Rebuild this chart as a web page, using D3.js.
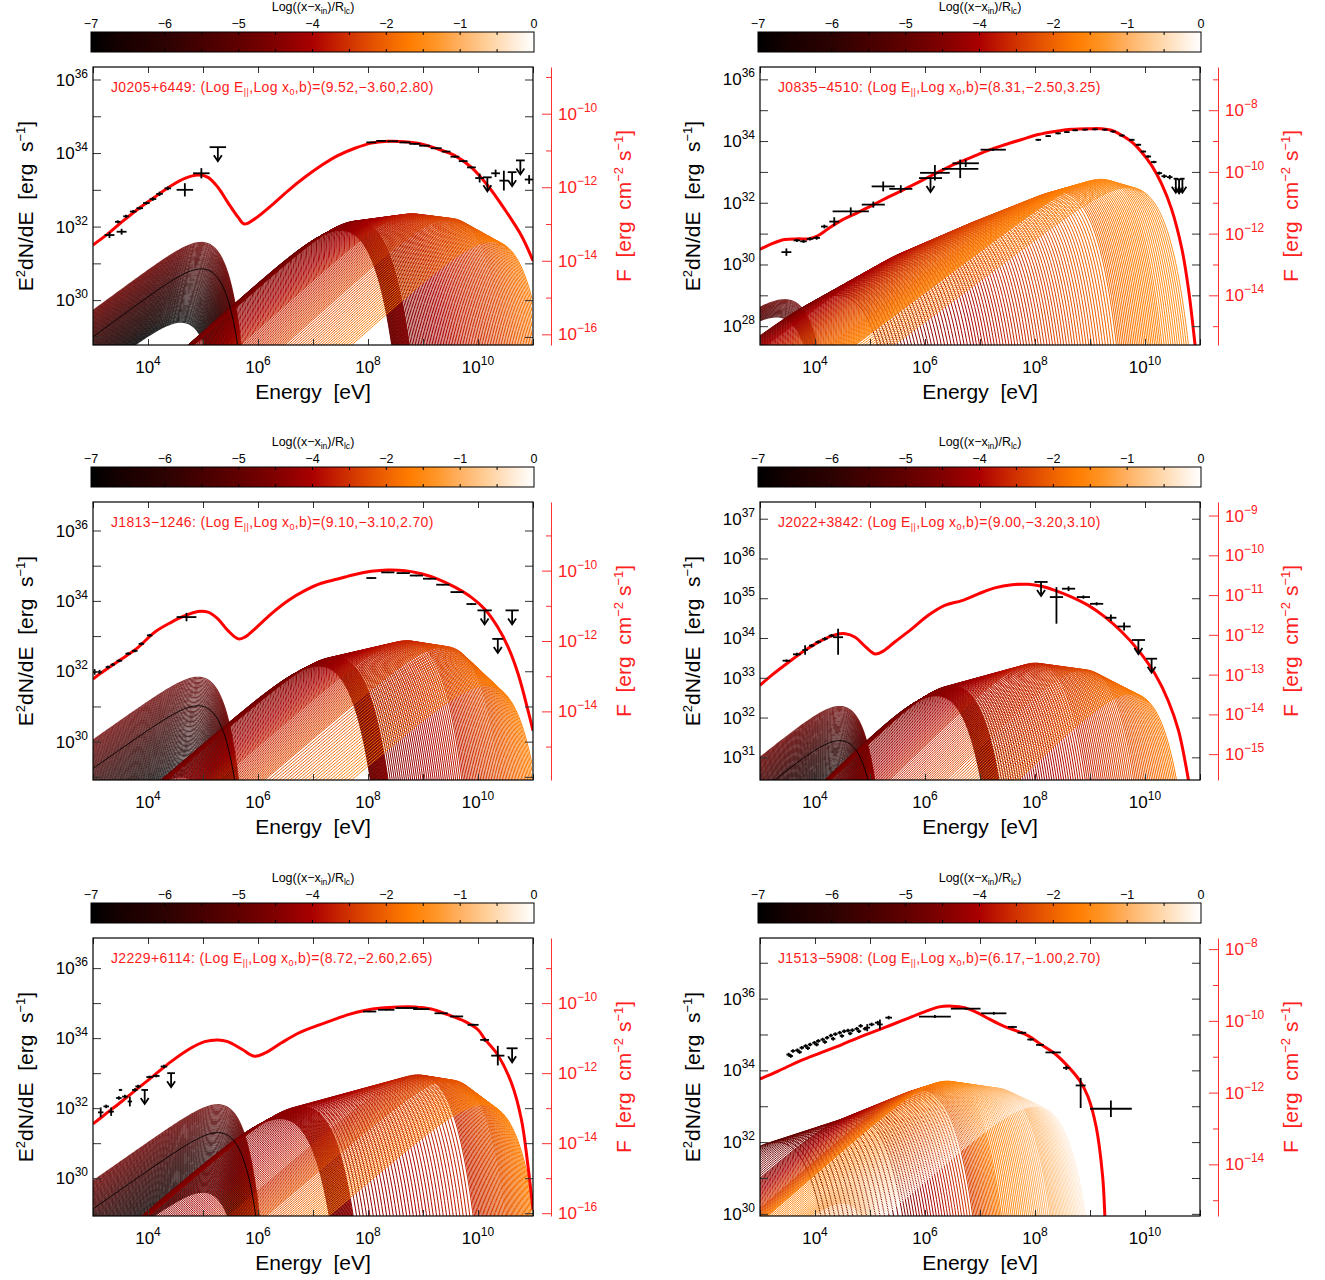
<!DOCTYPE html>
<html>
<meta charset="utf-8">
<title>Pulsar SED fits</title>
<style>
body { margin: 0; background: #fff; }
svg { font-family: "Liberation Sans", Arial, sans-serif; }
.box { fill: none; stroke: #000; stroke-width: 1.2; }
.model { fill: none; stroke: #ff0000; stroke-width: 3; }
.obs line, .obs path { stroke: #000; stroke-width: 1.8; fill: none; }
.fam { fill: none; }
</style>
<body>
<div id="chart"></div>
<script src="https://d3js.org/d3.v7.min.js"></script>
<script>

// ---------- chart values (log10 units) ----------
var sourceNames = ["J0205+6449", "J0835\u22124510", "J1813\u22121246", "J2022+3842", "J2229+6114", "J1513\u22125908"];
var fitValues = ["9.52,\u22123.60,2.80", "8.31,\u22122.50,3.25", "9.10,\u22123.10,2.70",
                 "9.00,\u22123.20,3.10", "8.72,\u22122.60,2.65", "6.17,\u22121.00,2.70"];
var energyRange = [3, 11];
var energyLabels = [4, 6, 8, 10];
var lumRange = [[28.78, 36.34], [27.39, 36.40], [28.91, 36.81], [30.43, 37.42], [28.92, 36.86], [29.94, 37.69]];
var fluxShift = [45.07, 43.0, 44.86, 46.08, 45.0, 45.38];
var labelStep = [2, 2, 2, 1, 2, 2];

var cmapStops = [0, 0.08, 0.17, 0.25, 0.33, 0.42, 0.5, 0.55, 0.6, 0.67, 0.72, 0.78, 0.83, 0.9, 0.96, 1];
var cmapColors = ["#000000", "#1a0000", "#2d0202", "#460000", "#5f0000", "#820000", "#aa0000", "#c31e00",
                  "#d73c00", "#f06400", "#ff7d00", "#ff9628", "#ffaf5f", "#ffd2a0", "#ffeedc", "#ffffff"];
var cbarLabels = ["\u22127", "\u22126", "\u22125", "\u22124", "\u22122", "\u22121", "0"];

// total model: [log E, log L]
var modelJ0205 = [[3.00,31.50],[3.27,31.80],[3.52,32.12],[3.82,32.48],[4.12,32.80],[4.42,33.11],[4.67,33.31],[4.91,33.40],
  [5.09,33.34],[5.27,33.07],[5.45,32.66],[5.64,32.25],[5.75,32.07],[5.94,32.21],[6.24,32.57],[6.55,32.98],[6.85,33.34],
  [7.15,33.66],[7.45,33.93],[7.76,34.13],[8.06,34.27],[8.36,34.32],[8.67,34.31],[8.97,34.25],[9.27,34.11],[9.58,33.93],
  [9.88,33.61],[10.18,33.11],[10.48,32.48],[10.79,31.75],[11.00,31.07]];
var modelJ0835 = [[3.00,30.49],[3.21,30.67],[3.45,30.81],[3.70,30.83],[3.88,30.83],[4.06,30.94],[4.24,31.16],[4.48,31.43],
  [4.73,31.64],[5.03,31.91],[5.33,32.18],[5.64,32.45],[5.94,32.72],[6.24,32.99],[6.55,33.26],[6.85,33.48],[7.15,33.70],
  [7.45,33.88],[7.76,34.05],[8.06,34.21],[8.36,34.31],[8.67,34.38],[8.97,34.40],[9.21,34.40],[9.39,34.35],[9.58,34.18],
  [9.76,33.97],[9.94,33.64],[10.12,33.21],[10.30,32.62],[10.48,31.81],[10.67,30.51],[10.79,29.21],[10.91,27.39],[10.96,26.50]];
var modelJ1813 = [[3.00,31.78],[3.21,32.02],[3.52,32.35],[3.82,32.68],[4.12,33.11],[4.42,33.39],[4.67,33.58],[4.91,33.70],
  [5.09,33.68],[5.27,33.49],[5.45,33.16],[5.64,32.92],[5.76,32.97],[5.94,33.20],[6.24,33.63],[6.55,34.01],[6.85,34.29],
  [7.15,34.50],[7.45,34.62],[7.76,34.75],[8.06,34.84],[8.36,34.88],[8.67,34.86],[8.97,34.77],[9.27,34.62],[9.58,34.39],
  [9.88,34.10],[10.12,33.77],[10.36,33.25],[10.55,32.68],[10.73,31.92],[10.91,30.88],[11.00,30.31]];
var modelJ2022 = [[3.00,32.81],[3.21,33.06],[3.52,33.39],[3.82,33.69],[4.12,33.94],[4.36,34.08],[4.55,34.11],[4.73,34.02],
  [4.91,33.79],[5.09,33.60],[5.24,33.67],[5.45,33.90],[5.76,34.23],[6.06,34.57],[6.36,34.82],[6.67,34.94],[6.97,35.11],
  [7.27,35.26],[7.58,35.34],[7.88,35.35],[8.12,35.30],[8.36,35.20],[8.67,35.03],[8.97,34.82],[9.27,34.53],[9.58,34.15],
  [9.88,33.69],[10.18,33.10],[10.42,32.43],[10.61,31.67],[10.79,30.43],[10.85,29.90]];
var modelJ2229 = [[3.00,31.55],[3.21,31.81],[3.52,32.19],[3.82,32.57],[4.12,32.95],[4.42,33.33],[4.73,33.67],[5.03,33.90],
  [5.27,33.95],[5.45,33.90],[5.70,33.69],[5.94,33.48],[6.12,33.57],[6.42,33.86],[6.73,34.14],[7.03,34.33],[7.33,34.50],
  [7.64,34.67],[7.94,34.79],[8.24,34.86],[8.55,34.89],[8.85,34.89],[9.15,34.83],[9.45,34.67],[9.76,34.48],[10.00,34.24],
  [10.12,33.98],[10.36,33.52],[10.61,32.71],[10.79,31.67],[10.91,30.33],[11.00,29.10]];
var modelJ1513 = [[3.00,33.76],[3.33,33.98],[3.72,34.26],[4.10,34.49],[4.49,34.72],[4.87,34.96],[5.26,35.19],[5.64,35.42],
  [5.95,35.61],[6.26,35.77],[6.49,35.79],[6.72,35.75],[6.95,35.61],[7.18,35.42],[7.42,35.24],[7.65,35.11],[7.88,34.96],
  [8.11,34.72],[8.34,34.49],[8.57,34.16],[8.80,33.74],[8.96,33.28],[9.11,32.44],[9.23,31.04],[9.27,29.94],[9.29,29.00]];

// observed points: [log E, log L, x half-width, y err below, y err above, upper limit]
var obsJ0205 = [[3.30,31.77,0.09,0.08,0.08,0],[3.52,31.86,0.09,0.08,0.08,0],[3.45,32.13,0.05,0.04,0.04,0],
  [3.60,32.28,0.05,0.04,0.04,0],[3.73,32.41,0.06,0.04,0.04,0],[3.85,32.50,0.06,0.04,0.04,0],[3.97,32.64,0.06,0.04,0.04,0],
  [4.09,32.75,0.06,0.05,0.05,0],[4.21,32.89,0.06,0.06,0.06,0],[4.36,33.04,0.06,0.05,0.05,0],[4.67,33.00,0.15,0.18,0.18,0],
  [4.97,33.45,0.15,0.14,0.14,0],[5.27,34.16,0.15,0,0,1],[8.06,34.29,0.09,0.02,0.02,0],[8.24,34.33,0.09,0.02,0.02,0],
  [8.45,34.32,0.10,0.02,0.02,0],[8.67,34.29,0.10,0.02,0.02,0],[8.85,34.25,0.10,0.02,0.02,0],[9.03,34.20,0.10,0.02,0.02,0],
  [9.24,34.13,0.10,0.02,0.02,0],[9.42,34.04,0.08,0.02,0.02,0],[9.58,33.90,0.08,0.03,0.03,0],[9.73,33.78,0.08,0.03,0.03,0],
  [9.88,33.61,0.08,0.03,0.03,0],[10.03,33.32,0.08,0.12,0.12,0],[10.17,33.34,0.08,0,0,1],[10.32,33.45,0.08,0.10,0.10,0],
  [10.47,33.25,0.08,0.27,0.27,0],[10.62,33.48,0.08,0,0,1],[10.77,33.80,0.08,0,0,1],[10.93,33.28,0.08,0.12,0.12,0]];
var obsJ0835 = [[3.48,30.40,0.09,0.12,0.12,0],[3.67,30.78,0.06,0.05,0.05,0],[3.79,30.75,0.06,0.05,0.05,0],
  [3.91,30.83,0.06,0.05,0.05,0],[4.03,30.86,0.06,0.06,0.06,0],[4.17,31.23,0.06,0.06,0.06,0],[4.35,31.39,0.09,0.14,0.14,0],
  [4.65,31.72,0.33,0.13,0.13,0],[5.06,31.94,0.21,0.10,0.10,0],[5.24,32.53,0.21,0.16,0.16,0],[5.56,32.45,0.21,0.12,0.12,0],
  [6.10,32.80,0.21,0,0,1],[6.18,32.97,0.27,0.25,0.25,0],[6.64,33.10,0.33,0.30,0.30,0],[6.74,33.28,0.24,0.12,0.12,0],
  [7.24,33.72,0.23,0.04,0.04,0],[8.06,34.04,0.05,0.03,0.03,0],[8.24,34.16,0.05,0.03,0.03,0],[8.42,34.25,0.05,0.03,0.03,0],
  [8.58,34.29,0.05,0.03,0.03,0],[8.73,34.35,0.05,0.03,0.03,0],[8.91,34.37,0.05,0.03,0.03,0],[9.09,34.38,0.05,0.03,0.03,0],
  [9.27,34.37,0.05,0.03,0.03,0],[9.42,34.31,0.05,0.03,0.03,0],[9.58,34.18,0.05,0.03,0.03,0],[9.76,34.04,0.05,0.03,0.03,0],
  [9.88,33.88,0.05,0.03,0.03,0],[9.97,33.66,0.05,0.03,0.03,0],[10.06,33.50,0.05,0.04,0.04,0],[10.16,33.32,0.05,0.04,0.04,0],
  [10.26,32.96,0.05,0.05,0.05,0],[10.35,32.86,0.05,0.06,0.06,0],[10.45,32.83,0.05,0.07,0.07,0],
  [10.56,32.78,0.04,0,0,1],[10.62,32.76,0.04,0,0,1],[10.68,32.78,0.04,0,0,1]];
var obsJ1813 = [[3.03,31.98,0.04,0.08,0.08,0],[3.12,31.98,0.04,0.06,0.06,0],[3.27,32.12,0.04,0.04,0.04,0],
  [3.36,32.19,0.04,0.04,0.04,0],[3.48,32.30,0.05,0.04,0.04,0],[3.64,32.50,0.05,0.04,0.04,0],[3.76,32.58,0.05,0.04,0.04,0],
  [3.88,32.78,0.05,0.04,0.04,0],[4.03,33.02,0.05,0.04,0.04,0],[4.70,33.54,0.18,0.12,0.12,0],
  [8.06,34.65,0.09,0.02,0.02,0],[8.36,34.81,0.12,0.02,0.02,0],[8.64,34.79,0.12,0.02,0.02,0],[8.88,34.72,0.12,0.02,0.02,0],
  [9.12,34.63,0.12,0.02,0.02,0],[9.36,34.46,0.12,0.02,0.02,0],[9.62,34.25,0.12,0.02,0.02,0],[9.88,33.91,0.09,0.03,0.03,0],
  [10.12,33.73,0.13,0,0,1],[10.36,32.92,0.10,0,0,1],[10.62,33.73,0.12,0,0,1]];
var obsJ2022 = [[3.48,33.43,0.07,0.03,0.03,0],[3.67,33.59,0.07,0.04,0.04,0],[3.82,33.70,0.05,0.12,0.12,0],
  [3.94,33.81,0.05,0.04,0.04,0],[4.06,33.90,0.05,0.04,0.04,0],[4.18,33.98,0.05,0.04,0.04,0],[4.30,34.06,0.05,0.04,0.04,0],
  [4.42,34.02,0.09,0.44,0.21,0],[8.11,35.41,0.12,0,0,1],[8.39,35.03,0.12,0.67,0.25,0],[8.61,35.24,0.12,0.06,0.06,0],
  [8.88,35.03,0.12,0.04,0.04,0],[9.12,34.86,0.12,0.04,0.04,0],[9.38,34.51,0.10,0.08,0.08,0],[9.62,34.29,0.12,0.10,0.10,0],
  [9.88,33.95,0.12,0,0,1],[10.12,33.48,0.10,0,0,1]];
var obsJ2229 = [[3.14,31.88,0.05,0.14,0.14,0],[3.24,32.05,0.05,0.05,0.05,0],[3.33,31.90,0.05,0.12,0.12,0],
  [3.47,32.29,0.05,0.05,0.05,0],[3.50,32.52,0.03,0.03,0.03,0],[3.58,32.33,0.05,0.05,0.05,0],[3.67,32.19,0.04,0.14,0.14,0],
  [3.76,32.52,0.05,0.05,0.05,0],[3.82,32.62,0.05,0.05,0.05,0],[3.94,32.52,0.06,0,0,1],[4.03,32.89,0.06,0.04,0.04,0],
  [4.15,32.92,0.06,0.04,0.04,0],[4.29,33.19,0.06,0.05,0.05,0],[4.42,33.00,0.07,0,0,1],
  [8.03,34.76,0.12,0.02,0.02,0],[8.33,34.81,0.15,0.02,0.02,0],[8.70,34.86,0.20,0.02,0.02,0],[8.97,34.83,0.15,0.02,0.02,0],
  [9.33,34.71,0.12,0.02,0.02,0],[9.61,34.62,0.12,0.02,0.02,0],[9.91,34.38,0.10,0.03,0.03,0],[10.12,33.95,0.08,0.05,0.05,0],
  [10.36,33.50,0.12,0.28,0.28,0],[10.62,33.71,0.10,0,0,1]];
var obsJ1513 = [[3.52,34.44,0.04,0.05,0.05,0],[3.56,34.40,0.04,0.05,0.05,0],[3.60,34.54,0.04,0.05,0.05,0],
  [3.68,34.56,0.04,0.05,0.05,0],[3.72,34.51,0.04,0.05,0.05,0],[3.76,34.63,0.04,0.05,0.05,0],[3.83,34.68,0.04,0.05,0.05,0],
  [3.87,34.62,0.04,0.05,0.05,0],[3.91,34.72,0.04,0.05,0.05,0],[3.99,34.77,0.04,0.05,0.05,0],[4.03,34.72,0.04,0.05,0.05,0],
  [4.06,34.82,0.04,0.05,0.05,0],[4.14,34.86,0.04,0.05,0.05,0],[4.18,34.79,0.04,0.05,0.05,0],[4.22,34.91,0.04,0.05,0.05,0],
  [4.29,34.97,0.04,0.05,0.05,0],[4.33,34.88,0.04,0.05,0.05,0],[4.37,35.01,0.04,0.05,0.05,0],[4.45,35.05,0.04,0.05,0.05,0],
  [4.49,34.96,0.04,0.05,0.05,0],[4.53,35.09,0.04,0.05,0.05,0],[4.60,35.11,0.04,0.05,0.05,0],[4.64,35.03,0.04,0.05,0.05,0],
  [4.68,35.12,0.04,0.05,0.05,0],[4.76,35.16,0.04,0.05,0.05,0],[4.80,35.09,0.04,0.05,0.05,0],[4.83,35.24,0.04,0.05,0.05,0],
  [4.91,35.16,0.04,0.05,0.05,0],[4.95,35.19,0.05,0.10,0.10,0],[5.03,35.28,0.05,0.05,0.05,0],[5.14,35.33,0.05,0.05,0.05,0],
  [5.18,35.28,0.05,0.14,0.14,0],[5.34,35.47,0.06,0.05,0.05,0],
  [6.18,35.50,0.29,0.04,0.04,0],[6.74,35.72,0.27,0.03,0.03,0],[7.25,35.59,0.23,0.04,0.04,0],[7.59,35.21,0.08,0.03,0.03,0],
  [7.76,35.05,0.08,0.03,0.03,0],[7.92,34.86,0.06,0.03,0.03,0],[8.09,34.71,0.07,0.03,0.03,0],[8.33,34.50,0.14,0.04,0.04,0],
  [8.57,34.07,0.06,0.06,0.06,0],[8.83,33.58,0.09,0.63,0.21,0],[9.38,32.93,0.38,0.23,0.23,0]];

// low-energy model band: [t first, t last, log Epk first, last, log Lpk first, last, curves]
var synBands = [[0.00, 0.36, 4.60, 4.97, 29.40, 31.57, 80], [0.26, 0.36, 3.30, 3.45, 28.30, 28.86, 20],
                [0.00, 0.36, 4.60, 4.91, 29.00, 31.83, 80], [0.00, 0.36, 4.30, 4.45, 30.20, 32.28, 80],
                [0.00, 0.36, 5.00, 5.27, 29.60, 32.10, 80], [0.88, 1.00, 4.50, 4.70, 30.30, 30.95, 25]];
// thin dark line inside the band: [log Epk, log Lpk]
var synLines = [[4.97, 30.85], null, [4.91, 31.02], [4.45, 31.42], [5.27, 31.30], null];

// high-energy model family anchors: [t, log Epk, log Lpk, curves to next anchor]
var curvJ0205 = [[0.36, 7.5, 31.90, 32], [0.42, 7.8, 32.15, 36], [0.55, 8.8, 32.35, 24], [0.62, 9.5, 32.22, 24],
                 [0.72, 10.25, 31.60, 0]];
var curvJ0835 = [[0.38, 4.4, 29.00, 28], [0.50, 5.9, 30.50, 26], [0.60, 7.2, 31.50, 25], [0.68, 8.4, 32.35, 25],
                 [0.74, 9.2, 32.76, 12], [0.77, 9.7, 32.50, 0]];
var curvJ1813 = [[0.36, 7.1, 32.15, 32], [0.42, 7.4, 32.40, 36], [0.55, 8.7, 32.87, 24], [0.63, 9.4, 32.70, 24],
                 [0.73, 10.15, 31.60, 0]];
var curvJ2022 = [[0.36, 6.2, 32.55, 32], [0.42, 6.5, 32.80, 36], [0.55, 8.0, 33.37, 24], [0.63, 8.9, 33.20, 24],
                 [0.72, 9.75, 32.60, 0]];
var curvJ2229 = [[0.38, 6.4, 31.70, 32], [0.44, 6.8, 32.05, 36], [0.56, 8.9, 32.95, 24], [0.64, 9.5, 32.80, 24],
                 [0.73, 10.1, 32.10, 0]];
var curvJ1513 = [[0.30, 3.3, 32.00, 18], [0.42, 4.7, 32.70, 25], [0.60, 5.9, 33.45, 20], [0.72, 6.4, 33.70, 25],
                 [0.85, 7.3, 33.50, 25], [0.97, 8.0, 33.00, 0]];

var models = [modelJ0205, modelJ0835, modelJ1813, modelJ2022, modelJ2229, modelJ1513];
var observed = [obsJ0205, obsJ0835, obsJ1813, obsJ2022, obsJ2229, obsJ1513];
var curvFamilies = [curvJ0205, curvJ0835, curvJ1813, curvJ2022, curvJ2229, curvJ1513];

// ---------- layout ----------
var colX = [93, 760], rowY = [67, 502, 938];
var boxW = 440, boxH = 278;
var MINUS = "\u2212";

var cmap = d3.scaleLinear().domain(cmapStops).range(cmapColors).interpolate(d3.interpolateRgb);

var svg = d3.select("#chart").append("svg")
  .attr("width", 1325)
  .attr("height", 1280);

var defs = svg.append("defs");
var grad = defs.append("linearGradient").attr("id", "cbar");
grad.selectAll("stop")
  .data(d3.range(0, 1.0001, 0.02))
  .enter().append("stop")
  .attr("offset", function(d) { return d; })
  .attr("stop-color", function(d) { return cmap(d); });

function curvShape(e, ep, lp) {
  var u = Math.pow(10, e - ep);
  return lp + (4 / 3) * Math.log10(u) - (4 / 3) * (u - 1) / Math.LN10;
}
function synShape(e, ep, lp) {
  var u = Math.pow(10, e - ep);
  return lp + 1.1 * Math.log10(u) - (1.1 / 1.5) * (Math.pow(u, 1.5) - 1) / Math.LN10;
}

function expandAnchors(anchors) {
  var out = [];
  for (var k = 0; k < anchors.length - 1; k++) {
    var a = anchors[k], b = anchors[k + 1];
    for (var j = 0; j < a[3]; j++) {
      var s = j / a[3];
      out.push({t: a[0] + s * (b[0] - a[0]), ep: a[1] + s * (b[1] - a[1]), lp: a[2] + s * (b[2] - a[2])});
    }
  }
  var last = anchors[anchors.length - 1];
  out.push({t: last[0], ep: last[1], lp: last[2]});
  return out;
}

function expandBand(b) {
  var out = [];
  for (var j = 0; j < b[6]; j++) {
    var s = j / (b[6] - 1);
    out.push({t: b[0] + s * (b[1] - b[0]), ep: b[2] + s * (b[3] - b[2]), lp: b[4] + s * (b[5] - b[4])});
  }
  return out;
}

function addPow(text, exp, big, small, raise) {
  text.append("tspan").attr("font-size", big).text("10");
  text.append("tspan").attr("font-size", small).attr("dy", -raise)
    .text(exp < 0 ? MINUS + (-exp) : String(exp));
}

var grid = d3.range(energyRange[0], energyRange[1] + 0.0001, 0.03);

function drawPanel(i) {
  var x0 = colX[i % 2], y0 = rowY[Math.floor(i / 2)];
  var lr = lumRange[i];

  var x = d3.scaleLog().domain([Math.pow(10, energyRange[0]), Math.pow(10, energyRange[1])]).range([x0, x0 + boxW]);
  var y = d3.scaleLog().domain([Math.pow(10, lr[0]), Math.pow(10, lr[1])]).range([y0 + boxH, y0]);
  var yF = d3.scaleLog().domain([Math.pow(10, lr[0] - fluxShift[i]), Math.pow(10, lr[1] - fluxShift[i])])
    .range([y0 + boxH, y0]);

  var g = svg.append("g");

  // ---- colour bar ----
  var cbX = x0 - 2, cbW = 443, cbY = y0 - 35, cbH = 20;
  g.append("rect").attr("x", cbX).attr("y", cbY).attr("width", cbW).attr("height", cbH)
    .attr("fill", "url(#cbar)").attr("stroke", "#000").attr("stroke-width", 1);
  var cbTick = d3.scaleLinear().domain([0, 12]).range([cbX, cbX + cbW]);
  g.append("g").selectAll("line").data(d3.range(1, 12)).enter().append("line")
    .attr("x1", function(d) { return cbTick(d); }).attr("x2", function(d) { return cbTick(d); })
    .attr("y1", cbY + cbH).attr("y2", cbY + cbH - 3).attr("stroke", "#000");
  g.append("g").selectAll("line").data(d3.range(1, 12)).enter().append("line")
    .attr("x1", function(d) { return cbTick(d); }).attr("x2", function(d) { return cbTick(d); })
    .attr("y1", cbY).attr("y2", cbY + 3).attr("stroke", "#000");
  g.append("g").selectAll("text").data(cbarLabels).enter().append("text")
    .attr("x", function(d, k) { return cbTick(k * 2); })
    .attr("y", y0 - 39)
    .attr("text-anchor", "middle")
    .attr("font-size", 12.5)
    .text(function(d) { return d; });
  var ct = g.append("text").attr("x", x0 + 220).attr("y", y0 - 56)
    .attr("text-anchor", "middle").attr("font-size", 12.5);
  ct.append("tspan").text("Log((x" + MINUS + "x");
  ct.append("tspan").attr("font-size", 8.5).attr("dy", 3).text("in");
  ct.append("tspan").attr("dy", -3).text(")/R");
  ct.append("tspan").attr("font-size", 8.5).attr("dy", 3).text("lc");
  ct.append("tspan").attr("dy", -3).text(")");

  // ---- plot area ----
  defs.append("clipPath").attr("id", "clip" + i)
    .append("rect").attr("x", x0).attr("y", y0).attr("width", boxW).attr("height", boxH);
  var plot = g.append("g").attr("clip-path", "url(#clip" + i + ")");

  var floor = lr[0] - 0.6;
  function famPath(shape) {
    return function(d) {
      return d3.line()
        .x(function(e) { return x(Math.pow(10, e)); })
        .y(function(e) { return y(Math.pow(10, Math.max(floor, shape(e, d.ep, d.lp)))); })(grid);
    };
  }

  plot.append("g").selectAll("path")
    .data(expandBand(synBands[i]))
    .enter().append("path")
    .attr("class", "fam")
    .attr("d", famPath(synShape))
    .attr("stroke", function(d) { return cmap(d.t); })
    .attr("stroke-width", 1.1)
    .attr("stroke-opacity", 0.8);

  plot.append("g").selectAll("path")
    .data(expandAnchors(curvFamilies[i]))
    .enter().append("path")
    .attr("class", "fam")
    .attr("d", famPath(curvShape))
    .attr("stroke", function(d) { return cmap(d.t); })
    .attr("stroke-width", 1.0);

  if (synLines[i]) {
    plot.append("path")
      .datum({ep: synLines[i][0], lp: synLines[i][1]})
      .attr("class", "fam")
      .attr("d", famPath(synShape))
      .attr("stroke", "#000")
      .attr("stroke-width", 0.9);
  }

  plot.append("path")
    .datum(models[i])
    .attr("class", "model")
    .attr("d", d3.line()
      .x(function(d) { return x(Math.pow(10, d[0])); })
      .y(function(d) { return y(Math.pow(10, d[1])); })
      .curve(d3.curveCatmullRom.alpha(0.5)));

  // observed points
  var pts = plot.append("g").attr("class", "obs").selectAll("g")
    .data(observed[i]).enter().append("g");
  pts.append("line")
    .attr("x1", function(d) { return x(Math.pow(10, d[0] - d[2])); })
    .attr("x2", function(d) { return x(Math.pow(10, d[0] + d[2])); })
    .attr("y1", function(d) { return y(Math.pow(10, d[1])); })
    .attr("y2", function(d) { return y(Math.pow(10, d[1])); });
  pts.append("line")
    .attr("x1", function(d) { return x(Math.pow(10, d[0])); })
    .attr("x2", function(d) { return x(Math.pow(10, d[0])); })
    .attr("y1", function(d) { return d[5] ? y(Math.pow(10, d[1])) : y(Math.pow(10, d[1] - d[3])); })
    .attr("y2", function(d) { return d[5] ? y(Math.pow(10, d[1])) + 13 : y(Math.pow(10, d[1] + d[4])); });
  pts.filter(function(d) { return d[5]; }).append("path")
    .attr("d", function(d) {
      var cx = x(Math.pow(10, d[0])), cy = y(Math.pow(10, d[1])) + 14;
      return "M" + (cx - 4) + "," + (cy - 6) + "L" + cx + "," + cy + "L" + (cx + 4) + "," + (cy - 6);
    });

  // ---- frame and ticks ----
  var xDec = d3.range(energyRange[0], energyRange[1] + 1).map(function(e) { return Math.pow(10, e); });
  var yDec = d3.range(Math.ceil(lr[0]), Math.floor(lr[1]) + 1);
  var yVals = yDec.map(function(e) { return Math.pow(10, e); });

  function clean(sel) { sel.select(".domain").remove(); sel.attr("color", "#333"); }
  g.append("g").attr("transform", "translate(0," + (y0 + boxH) + ")")
    .call(d3.axisBottom(x).tickValues(xDec).tickSize(-6).tickFormat("")).call(clean);
  g.append("g").attr("transform", "translate(0," + y0 + ")")
    .call(d3.axisTop(x).tickValues(xDec).tickSize(-6).tickFormat("")).call(clean);
  g.append("g").attr("transform", "translate(" + x0 + ",0)")
    .call(d3.axisLeft(y).tickValues(yVals).tickSize(-8).tickFormat("")).call(clean);
  g.append("g").attr("transform", "translate(" + (x0 + boxW) + ",0)")
    .call(d3.axisRight(y).tickValues(yVals).tickSize(-8).tickFormat("")).call(clean);
  g.append("rect").attr("class", "box").attr("x", x0).attr("y", y0).attr("width", boxW).attr("height", boxH);

  energyLabels.forEach(function(e) {
    var t = g.append("text").attr("x", x(Math.pow(10, e))).attr("y", y0 + boxH + 28).attr("text-anchor", "middle");
    addPow(t, e, 17, 12, 8);
  });
  yDec.filter(function(e) { return e % labelStep[i] === 0; }).forEach(function(e) {
    var t = g.append("text").attr("x", x0 - 5).attr("y", y(Math.pow(10, e)) + 6).attr("text-anchor", "end");
    addPow(t, e, 17, 12, 8);
  });

  // right flux axis
  var ax = x0 + boxW + 18;
  var fDec = d3.range(Math.ceil(lr[0] - fluxShift[i]), Math.floor(lr[1] - fluxShift[i]) + 1);
  var fMajor = fDec.filter(function(e) { return e % labelStep[i] === 0; });
  var fMinor = fDec.filter(function(e) { return e % labelStep[i] !== 0; });
  g.append("g").attr("transform", "translate(" + ax + ",0)").attr("color", "#ff3030")
    .call(d3.axisLeft(yF).tickValues(fMajor.map(function(e) { return Math.pow(10, e); }))
      .tickSize(9).tickSizeOuter(0).tickFormat(""));
  g.append("g").attr("transform", "translate(" + ax + ",0)").attr("color", "#ff3030")
    .call(d3.axisLeft(yF).tickValues(fMinor.map(function(e) { return Math.pow(10, e); }))
      .tickSize(5).tickSizeOuter(0).tickFormat(""))
    .call(function(s) { s.select(".domain").remove(); });
  fMajor.forEach(function(e) {
    var t = g.append("text").attr("x", ax + 7).attr("y", yF(Math.pow(10, e)) + 6).attr("fill", "#ff2020");
    addPow(t, e, 17, 12, 8);
  });

  // ---- titles ----
  var lab = g.append("text").attr("x", x0 + 18).attr("y", y0 + 25).attr("fill", "#ff1a1a")
    .attr("font-size", 14).attr("letter-spacing", 0.35);
  lab.append("tspan").text(sourceNames[i] + ": (Log E");
  lab.append("tspan").attr("font-size", 9).attr("dy", 3).text("||");
  lab.append("tspan").attr("dy", -3).text(",Log x");
  lab.append("tspan").attr("font-size", 9).attr("dy", 3).text("0");
  lab.append("tspan").attr("dy", -3).text(",b)=(" + fitValues[i] + ")");

  g.append("text").attr("x", x0 + 220).attr("y", y0 + 332).attr("text-anchor", "middle")
    .attr("font-size", 21).text("Energy\u00a0\u00a0[eV]");

  var yl = g.append("text").attr("transform", "translate(" + (x0 - 60) + "," + (y0 + 139) + ") rotate(-90)")
    .attr("text-anchor", "middle").attr("font-size", 21);
  yl.append("tspan").text("E");
  yl.append("tspan").attr("font-size", 13).attr("dy", -8).text("2");
  yl.append("tspan").attr("dy", 8).text("dN/dE\u00a0\u00a0[erg\u00a0\u00a0s");
  yl.append("tspan").attr("font-size", 13).attr("dy", -8).text(MINUS + "1");
  yl.append("tspan").attr("dy", 8).text("]");

  var fl = g.append("text").attr("transform", "translate(" + (x0 + 538) + "," + (y0 + 139) + ") rotate(-90)")
    .attr("text-anchor", "middle").attr("font-size", 21).attr("fill", "#ff2020");
  fl.append("tspan").text("F\u00a0\u00a0[erg\u00a0\u00a0cm");
  fl.append("tspan").attr("font-size", 13).attr("dy", -8).text(MINUS + "2");
  fl.append("tspan").attr("dy", 8).text("\u00a0s");
  fl.append("tspan").attr("font-size", 13).attr("dy", -8).text(MINUS + "1");
  fl.append("tspan").attr("dy", 8).text("]");
}

for (var i = 0; i < 6; i++) drawPanel(i);

</script>
</html>
